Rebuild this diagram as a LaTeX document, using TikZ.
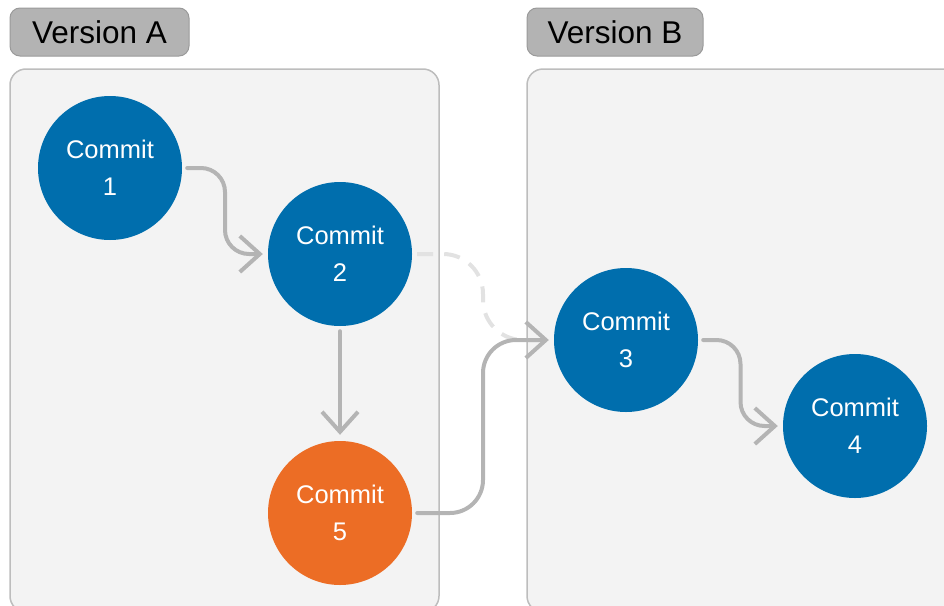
\documentclass[tikz,border=0pt]{standalone}
\usepackage{fontspec}
\setmainfont{Liberation Sans}
\usetikzlibrary{arrows.meta}

\definecolor{commitblue}{HTML}{006EAD}
\definecolor{commitorange}{HTML}{EC6D25}
\definecolor{linkgray}{HTML}{B4B4B4}
\definecolor{linkfaint}{HTML}{E2E2E2}
\definecolor{panelfill}{HTML}{F3F3F3}
\definecolor{panelline}{HTML}{BDBDBD}
\definecolor{tagfill}{HTML}{B3B3B3}
\definecolor{tagline}{HTML}{9A9A9A}

\begin{document}
\begin{tikzpicture}[x=1pt,y=-1pt,
  panel/.style={draw=panelline, fill=panelfill, line width=1.5pt, rounded corners=16pt},
  tag/.style={draw=tagline, fill=tagfill, line width=1pt, rounded corners=10pt,
    minimum height=48pt, inner sep=0pt, text=black,
    font=\fontsize{31.5}{36}\selectfont},
  commit/.style={circle, fill=commitblue, minimum size=144pt, inner sep=0pt,
    text=white, align=center, font=\fontsize{25.5}{37}\selectfont},
  hotfix/.style={commit, fill=commitorange},
  link/.style={draw=linkgray, line width=4pt,
    line cap=round, line join=round,
    -{Straight Barb[length=20pt,width=36pt]},
    shorten <=5pt, shorten >=5pt},
  ghostlink/.style={draw=linkfaint, line width=4pt,
    dash pattern=on 16pt off 11pt, shorten <=5pt, shorten >=5pt},
]
\useasboundingbox (0,0) rectangle (944,605);
\clip (0,0) rectangle (944,605);

% panels and their tags
\draw[panel] (10,69) rectangle (439,612);
\draw[panel] (527,69) rectangle (962,612);
\node[tag, minimum width=179pt] (tagA) at (99.5,32) {Version A};
\node[tag, minimum width=176pt] (tagB) at (615,32) {Version B};

% commits
\node[commit] (c1) at (110,168) {Commit\\1};
\node[commit] (c2) at (340,254) {Commit\\2};
\node[hotfix] (c5) at (340,513) {Commit\\5};
\node[commit] (c3) at (626,340) {Commit\\3};
\node[commit] (c4) at (855,426) {Commit\\4};

% history links: horizontal, quarter turn, vertical, quarter turn, horizontal
\draw[ghostlink] (c2.east) -- (443,254)
  arc[start angle=-90, end angle=0, radius=40] -- (483,300)
  arc[start angle=180, end angle=90, radius=40] -- (c3.west);
\draw[link] (c1.east) -- (201,168)
  arc[start angle=-90, end angle=0, radius=24] -- (225,230)
  arc[start angle=180, end angle=90, radius=24] -- (c2.west);
\draw[link, shorten >=6pt] (c2.south) -- (c5.north);
\draw[link] (c5.east) -- (450,513)
  arc[start angle=90, end angle=0, radius=33] -- (483,373)
  arc[start angle=180, end angle=270, radius=33] -- (c3.west);
\draw[link] (c3.east) -- (716.5,340)
  arc[start angle=-90, end angle=0, radius=24] -- (740.5,402)
  arc[start angle=180, end angle=90, radius=24] -- (c4.west);
\end{tikzpicture}
\end{document}
